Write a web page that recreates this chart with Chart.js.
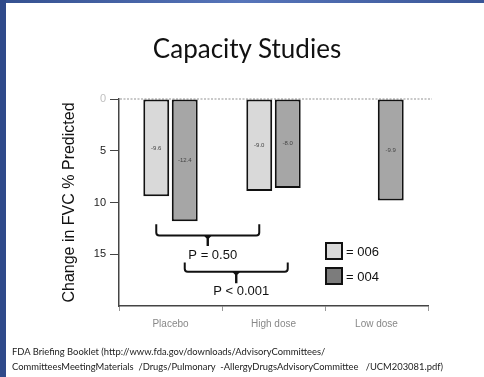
<!DOCTYPE html>
<html>
<head>
<meta charset="utf-8">
<script src="https://cdn.jsdelivr.net/npm/chart.js@4.4.1/dist/chart.umd.min.js"></script>
<style>
    html, body { margin: 0; padding: 0; background: #fff; }
    #slide { position: relative; width: 484px; height: 377px; overflow: hidden; background: #fff; }
    #barraTopo { position: absolute; left: 0; top: 0; width: 484px; height: 3px;
        background: linear-gradient(to right, #34508f, #5775ba 50%, #3a5697); }
    #barraEsq { position: absolute; left: 0; top: 0; width: 6px; height: 377px; background: #2f4a8a; }
    #titulo { position: absolute; left: 0; width: 494px; top: 32px; text-align: center;
        font-family: Lato, sans-serif; font-size: 26px; color: #111; }
    #fonte { position: absolute; left: 12px; top: 344px; font-family: Lato, sans-serif;
        font-size: 9.4px; line-height: 15px; color: #222; white-space: pre; }
    canvas { position: absolute; left: 0; top: 0; }
</style>
</head>
<body>
<div id="slide">
    <canvas id="barChart" width="484" height="377"></canvas>
    <div id="barraTopo"></div>
    <div id="barraEsq"></div>
    <div id="titulo">Capacity Studies</div>
    <div id="fonte">FDA Briefing Booklet (http://www.fda.gov/downloads/AdvisoryCommittees/
CommitteesMeetingMaterials  /Drugs/Pulmonary  -AllergyDrugsAdvisoryCommittee   /UCM203081.pdf)</div>
</div>
<script>
// --- DADOS ---
const categorias = ['Placebo', 'High dose', 'Low dose'];
const serie006 = [9.4, 8.9, null];
const serie004 = [11.8, 8.6, 9.8];
const rotulos006 = ['-9.6', '-9.0', null];
const rotulos004 = ['-12.4', '-8.0', '-9.9'];
const ticksY = [0, 5, 10, 15];
const pValores = ['P = 0.50', 'P < 0.001'];

// anotações: chaves, textos de P e legenda
const anotacoes = {
    id: 'anotacoes',
    beforeDatasetsDraw(chart) {
        const { ctx, chartArea } = chart;
        const y0 = chart.scales.y.getPixelForValue(0);
        ctx.save();
        ctx.strokeStyle = '#b8b8b8';
        ctx.lineWidth = 1.5;
        ctx.setLineDash([2, 1.5]);
        ctx.beginPath();
        ctx.moveTo(chartArea.left + 1, y0);
        ctx.lineTo(chartArea.right + 4, y0);
        ctx.stroke();
        ctx.restore();
    },
    afterDatasetsDraw(chart) {
        const { ctx } = chart;
        const y = chart.scales.y;
        const rotulos = [rotulos006, rotulos004];

        ctx.save();
        // valores dentro das barras
        ctx.font = '6px "Liberation Sans", Arial, sans-serif';
        ctx.fillStyle = '#444';
        ctx.textAlign = 'center';
        ctx.textBaseline = 'middle';
        rotulos.forEach((lista, i) => {
            chart.getDatasetMeta(i).data.forEach((el, j) => {
                if (lista[j] == null) return;
                ctx.fillText(lista[j], el.x, (el.y + el.base) / 2);
            });
        });

        // chaves
        const chave = (x1, x2, topo, meio, ponta) => {
            const yt = y.getPixelForValue(topo);
            const ym = y.getPixelForValue(meio);
            const yp = y.getPixelForValue(ponta);
            const xc = (x1 + x2) / 2;
            ctx.strokeStyle = '#111';
            ctx.lineWidth = 2;
            ctx.beginPath();
            ctx.moveTo(x1, yt);
            ctx.lineTo(x1, ym - 3);
            ctx.quadraticCurveTo(x1, ym, x1 + 3, ym);
            ctx.lineTo(x2 - 3, ym);
            ctx.quadraticCurveTo(x2, ym, x2, ym - 3);
            ctx.lineTo(x2, yt);
            ctx.stroke();
            ctx.fillStyle = '#111';
            ctx.beginPath();
            ctx.moveTo(xc - 4, ym);
            ctx.lineTo(xc + 4, ym);
            ctx.lineTo(xc + 1.2, ym + 3);
            ctx.lineTo(xc + 1.2, yp);
            ctx.lineTo(xc - 1.2, yp);
            ctx.lineTo(xc - 1.2, ym + 3);
            ctx.closePath();
            ctx.fill();
            return xc;
        };
        const m0 = chart.getDatasetMeta(0).data;
        const m1 = chart.getDatasetMeta(1).data;
        const c1 = chave(m0[0].x, m0[1].x, 12.1, 13.2, 14.2);
        const c2 = chave(m1[0].x, m1[1].x, 15.8, 16.7, 17.8);

        ctx.font = '13px "Liberation Sans", Arial, sans-serif';
        ctx.fillStyle = '#111';
        ctx.fillText(pValores[0], c1 + 5, y.getPixelForValue(15.1));
        ctx.fillText(pValores[1], c2 + 5, y.getPixelForValue(18.6));

        // legenda
        const itens = [['= 006', '#d9d9d9', 251], ['= 004', '#7c7c7c', 276]];
        itens.forEach(([txt, cor, yc]) => {
            ctx.fillStyle = cor;
            ctx.fillRect(326, yc - 8, 16, 16);
            ctx.strokeStyle = '#111';
            ctx.lineWidth = 2;
            ctx.strokeRect(326, yc - 8, 16, 16);
            ctx.fillStyle = '#111';
            ctx.textAlign = 'left';
            ctx.fillText(txt, 346, yc + 1);
        });
        ctx.restore();
    }
};

document.addEventListener('DOMContentLoaded', () => {
    const ctx = document.getElementById('barChart');

    new Chart(ctx, {
        type: 'bar',
        data: {
            labels: categorias,
            datasets: [{
                label: '006',
                data: serie006,
                backgroundColor: '#d9d9d9',
                borderColor: '#111',
                borderWidth: 2,
                borderSkipped: false
            }, {
                label: '004',
                data: serie004,
                backgroundColor: '#a6a6a6',
                borderColor: '#111',
                borderWidth: 2,
                borderSkipped: false
            }]
        },
        options: {
            responsive: false,
            animation: false,
            devicePixelRatio: 1,
            categoryPercentage: 0.553,
            barPercentage: 0.91,
            layout: { padding: { left: 0, top: 99, right: 56, bottom: 0 } },
            plugins: {
                legend: { display: false },
                tooltip: { enabled: false }
            },
            scales: {
                x: {
                    afterFit: s => { s.height = 71; },
                    border: { color: '#444', width: 1.5 },
                    grid: { drawOnChartArea: false, tickLength: 5, color: '#999' },
                    ticks: {
                        color: '#888',
                        padding: 7,
                        font: { family: '"Liberation Sans", Arial, sans-serif', size: 10 }
                    }
                },
                y: {
                    min: 0,
                    max: 20,
                    reverse: true,
                    afterFit: s => { s.width = 119; },
                    afterBuildTicks: s => {
                        s.ticks = ticksY.concat([20]).map(v => ({ value: v }));
                    },
                    border: { color: '#444', width: 1.5 },
                    grid: {
                        drawOnChartArea: false,
                        tickLength: 9,
                        color: c => (c.tick && c.tick.value === 20) ? 'rgba(0,0,0,0)' : '#444'
                    },
                    ticks: {
                        padding: 4,
                        color: c => (c.tick && c.tick.value === 0) ? '#c0c0c0' : '#222',
                        font: { family: '"Liberation Sans", Arial, sans-serif', size: 11 },
                        callback: v => (v === 20 ? '' : v)
                    },
                    title: {
                        display: true,
                        text: 'Change in FVC % Predicted',
                        color: '#111',
                        font: { family: '"Liberation Sans", Arial, sans-serif', size: 16 },
                        padding: { top: 60, bottom: 0 }
                    }
                }
            }
        },
        plugins: [anotacoes]
    });
});
</script>
</body>
</html>
